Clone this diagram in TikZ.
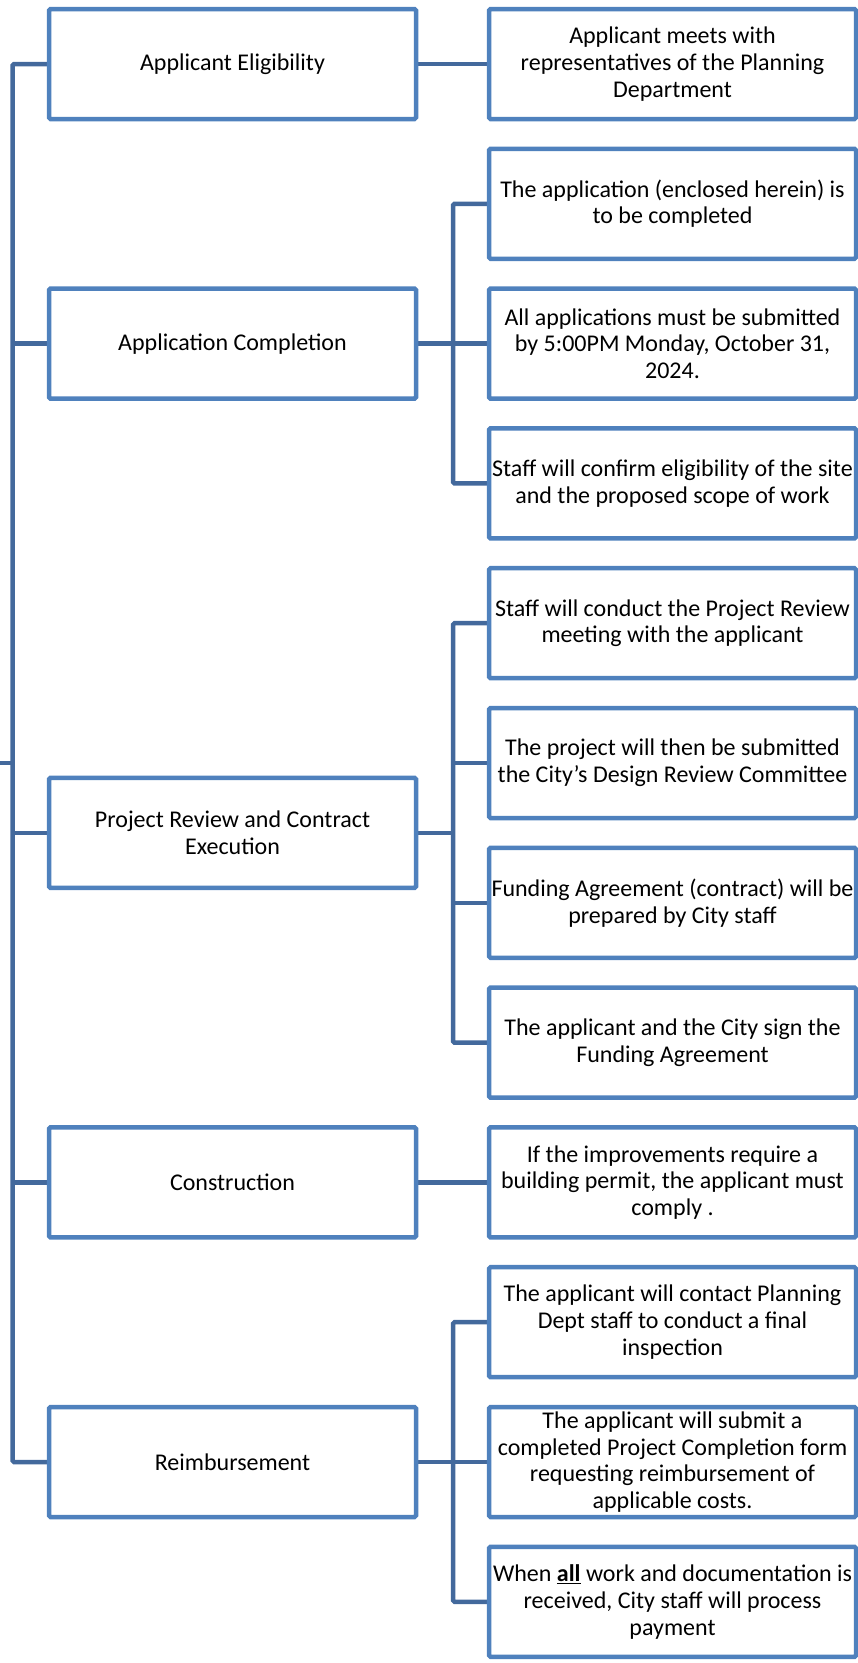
\documentclass[tikz,border=0pt]{standalone}
\usepackage{fontspec}
\setmainfont{Carlito}
\usepackage{tikz}
\usetikzlibrary{backgrounds}
\definecolor{boxblue}{HTML}{4F81BD}
\definecolor{lineblue}{HTML}{43699C}
\newcommand{\boxcolor}{boxblue}
\newcommand{\linecolor}{lineblue}
\newcommand{\thickness}{4.5pt}
\tikzset{
  stage/.style={draw=\boxcolor, line width=\thickness, fill=white, rounded corners=1.5pt,
    minimum width=367pt, minimum height=110pt, inner sep=0pt, align=center,
    font=\fontsize{24}{26.7}\selectfont},
  conn/.style={draw=\linecolor, line width=\thickness, rounded corners=1.5pt}
}

\begin{document}
\begin{tikzpicture}[x=1pt,y=-1pt]
\useasboundingbox (0,0) rectangle (858,1663);
\node[stage] (1) at (232.5, 64.0) {Applicant Eligibility};
\node[stage] (2) at (232.5, 343.6) {Application Completion};
\node[stage] (3) at (232.5, 832.9) {Project Review and Contract\\Execution};
\node[stage] (4) at (232.5, 1182.4) {Construction};
\node[stage] (5) at (232.5, 1462.0) {Reimbursement};
\node[stage] (1a) at (672.5, 64.0) {Applicant meets with\\representatives of the Planning\\Department};
\node[stage] (2a) at (672.5, 203.8) {The application (enclosed herein) is\\to be completed};
\node[stage] (2b) at (672.5, 343.6) {All applications must be submitted\\by 5:00PM Monday, October 31,\\2024.};
\node[stage] (2c) at (672.5, 483.4) {Staff will confirm eligibility of the site\\and the proposed scope of work};
\node[stage] (3a) at (672.5, 623.2) {Staff will conduct the Project Review\\meeting with the applicant};
\node[stage] (3b) at (672.5, 763.0) {The project will then be submitted\\the City’s Design Review Committee};
\node[stage] (3c) at (672.5, 902.8) {Funding Agreement (contract) will be\\prepared by City staff};
\node[stage] (3d) at (672.5, 1042.6) {The applicant and the City sign the\\Funding Agreement};
\node[stage] (4a) at (672.5, 1182.4) {If the improvements require a\\building permit, the applicant must\\comply .};
\node[stage] (5a) at (672.5, 1322.2) {The applicant will contact Planning\\Dept staff to conduct a final\\inspection};
\node[stage] (5b) at (672.5, 1462.0) {The applicant will submit a\\completed Project Completion form\\requesting reimbursement of\\applicable costs.};
\node[stage] (5c) at (672.5, 1601.8) {When \underline{\textbf{all}} work and documentation is\\received, City staff will process\\payment};
\coordinate (root) at (0, 763.0);
\coordinate (trunk) at (12.5, 763.0);
\coordinate (fork2) at (453, 343.6);
\coordinate (fork3) at (453, 832.9);
\coordinate (fork5) at (453, 1462.0);
%trunk
\begin{scope}[on background layer]
\draw[conn] (root) -- (trunk);
\draw[conn] (1.west) -| (trunk) |- (5.west);
\draw[conn] (2.west) -- (2.west -| trunk);
\draw[conn] (3.west) -- (3.west -| trunk);
\draw[conn] (4.west) -- (4.west -| trunk);
\end{scope}
%1 4
\begin{scope}[on background layer]
\draw[conn] (1.east) -- (1a.west);
\draw[conn] (4.east) -- (4a.west);
\end{scope}
%2
\begin{scope}[on background layer]
\draw[conn] (2a.west) -| (fork2) |- (2c.west);
\draw[conn] (2.east) -- (2b.west);
\end{scope}
%3
\begin{scope}[on background layer]
\draw[conn] (3a.west) -| (fork3) |- (3d.west);
\draw[conn] (3.east) -- (fork3);
\draw[conn] (3b.west) -- (3b.west -| fork3);
\draw[conn] (3c.west) -- (3c.west -| fork3);
\end{scope}
%5
\begin{scope}[on background layer]
\draw[conn] (5a.west) -| (fork5) |- (5c.west);
\draw[conn] (5.east) -- (5b.west);
\end{scope}
\end{tikzpicture}
\end{document}
